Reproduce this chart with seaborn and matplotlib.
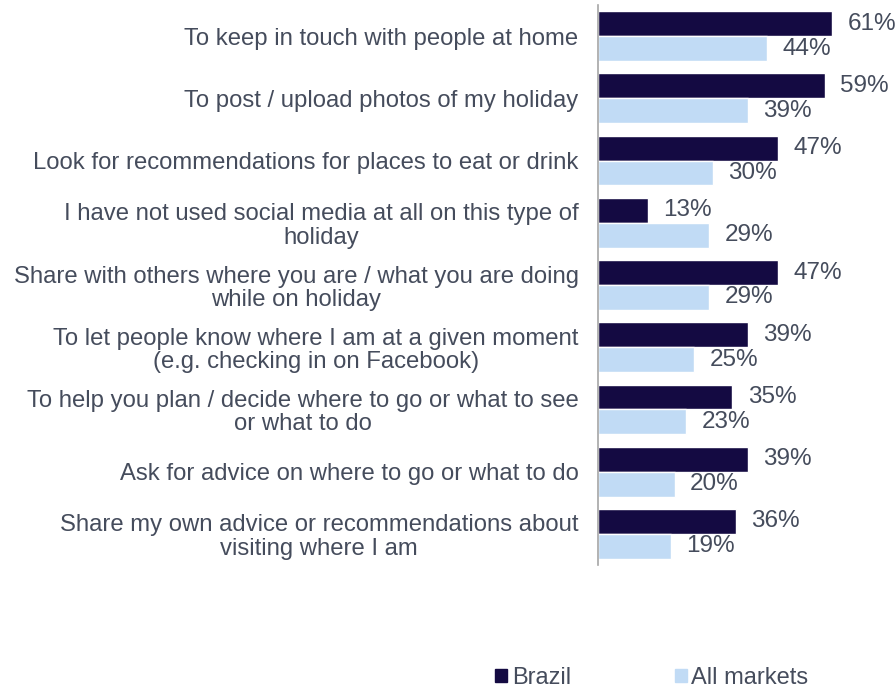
import matplotlib
matplotlib.use("Agg")
import matplotlib.pyplot as plt
import seaborn as sns
import pandas as pd

categories = [
    "To keep in touch with people at home",
    "To post / upload photos of my holiday",
    "Look for recommendations for places to eat or drink",
    "I have not used social media at all on this type of\nholiday",
    "Share with others where you are / what you are doing\nwhile on holiday",
    "To let people know where I am at a given moment\n(e.g. checking in on Facebook)",
    "To help you plan / decide where to go or what to see\nor what to do",
    "Ask for advice on where to go or what to do",
    "Share my own advice or recommendations about\nvisiting where I am",
]
brazil = [61, 59, 47, 13, 47, 39, 35, 39, 36]
all_markets = [44, 39, 30, 29, 29, 25, 23, 20, 19]
series = ["Brazil", "All markets"]
colors = ["#140a42", "#c1dbf5"]

df = pd.DataFrame({
    "category": categories * 2,
    "value": brazil + all_markets,
    "series": [series[0]] * len(categories) + [series[1]] * len(categories),
})

sns.set_theme(style="white")
plt.rcParams["font.family"] = ["Liberation Sans", "DejaVu Sans"]
text_color = "#454c5c"

fig = plt.figure(figsize=(8.96, 6.91), dpi=100)
ax = fig.add_axes([598 / 896, 1 - 565 / 691, 1 - 598 / 896, 560 / 691])

sns.barplot(data=df, y="category", x="value", hue="series", orient="h",
            palette=colors, width=0.8, ax=ax, legend=False, saturation=1)

ax.set_xlim(0, 77.6)
ax.set_ylim(len(categories) - 0.5, -0.5)
ax.set_xlabel("")
ax.set_ylabel("")
ax.set_xticks([])
for s in ["top", "right", "bottom"]:
    ax.spines[s].set_visible(False)
ax.spines["left"].set_color("#a6a6a6")
ax.spines["left"].set_linewidth(1.2)
ax.tick_params(axis="y", length=0, pad=14)
for lbl in ax.get_yticklabels():
    lbl.set_multialignment("center")
    lbl.set_fontsize(17.2)
    lbl.set_color(text_color)
    lbl.set_linespacing(1.08)

for cont in ax.containers:
    ax.bar_label(cont, labels=[f"{v:.0f}%" for v in cont.datavalues],
                 padding=11, fontsize=17.5, color=text_color)

handles = [plt.Rectangle((0, 0), 1, 1, color=c) for c in colors]
fig.legend(handles, series, loc="lower center", bbox_to_anchor=(652 / 896, -0.028),
           ncol=2, frameon=False, fontsize=17, handlelength=0.5, handleheight=0.5,
           handletextpad=0.2, columnspacing=4.4, labelcolor=text_color)

fig.savefig("out.png", dpi=100)
